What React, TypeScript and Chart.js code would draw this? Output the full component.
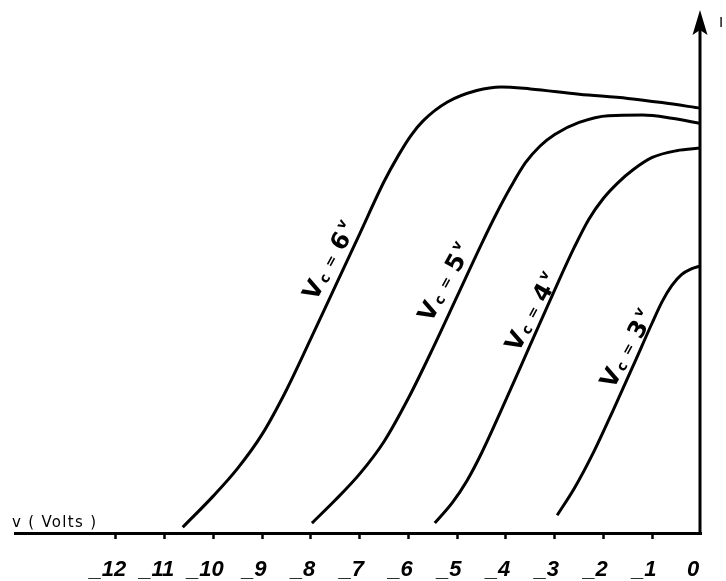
import React, { useEffect, useRef } from 'react';
import { Chart, registerables } from 'chart.js';

Chart.register(...registerables);

// x-axis ticks (volts) and their printed labels
const xTicks = [-12, -11, -10, -9, -8, -7, -6, -5, -4, -3, -2, -1, 0];
const tickLabels = ['_12', '_11', '_10', '_9', '_8', '_7', '_6', '_5', '_4', '_3', '_2', '_1', '0'];

// Vc = 6v
const vc6X = [-10.63, -10.0, -9.5, -9.0, -8.5, -8.0, -7.5, -7.0, -6.5, -6.2, -5.95, -5.7, -5.2, -4.6, -4.1, -3.5, -2.5, -1.5, -0.8, 0];
const vc6I = [1.1, 7.1, 12.4, 18.9, 27.4, 37.2, 47.2, 57.2, 67.2, 72.3, 76.0, 78.8, 82.4, 84.6, 85.3, 84.9, 83.9, 83.1, 82.3, 81.2];
// Vc = 5v
const vc5X = [-7.98, -7.5, -7.0, -6.5, -6.0, -5.5, -5.0, -4.5, -4.2, -3.9, -3.6, -3.3, -3.0, -2.5, -1.9, -1.2, -0.6, 0];
const vc5I = [1.9, 6.3, 11.3, 17.5, 25.8, 35.3, 45.3, 55.3, 61.0, 66.2, 70.8, 74.0, 76.2, 78.5, 79.8, 79.9, 79.3, 78.3];
// Vc = 4v
const vc4X = [-5.46, -5.1, -4.8, -4.5, -4.0, -3.5, -3.0, -2.6, -2.3, -2.0, -1.7, -1.4, -1.0, -0.5, 0];
const vc4I = [1.9, 5.8, 10.0, 15.3, 25.5, 36.0, 46.5, 54.6, 60.0, 64.0, 67.0, 69.4, 71.8, 73.1, 73.6];
// Vc = 3v
const vc3X = [-2.95, -2.6, -2.2, -1.8, -1.4, -1.0, -0.8, -0.6, -0.4, -0.2, 0];
const vc3I = [3.4, 8.5, 15.5, 23.5, 31.8, 40.2, 44.2, 47.3, 49.4, 50.5, 51.1];

const seriesDigits = ['6', '5', '4', '3'];
// label anchors (data coords) for the handwritten curve labels
const labelAnchorX = [-7.9, -5.54, -3.75, -1.8];
const labelAnchorI = [44.2, 40.1, 34.4, 27.4];

const xAxisTitle = 'v ( Volts )';
const yAxisTitle = 'I';

const toPts = (xs: number[], ys: number[]) => xs.map((x, i) => ({ x, y: ys[i] }));

const annotate = {
  id: 'annotate',
  afterDraw(chart: any) {
    const ctx = chart.ctx as CanvasRenderingContext2D;
    const xs = chart.scales.x;
    const ys = chart.scales.y;
    const area = chart.chartArea;
    const x0 = xs.getPixelForValue(0) - 1;
    const yBottom = ys.getPixelForValue(0);
    const top = area.top;

    ctx.save();
    ctx.fillStyle = '#000';
    ctx.strokeStyle = '#000';
    // vertical axis
    ctx.lineWidth = 3;
    ctx.beginPath();
    ctx.moveTo(x0, yBottom + 1.5);
    ctx.lineTo(x0, top + 18);
    ctx.stroke();
    // arrow head
    ctx.beginPath();
    ctx.moveTo(x0, top);
    ctx.lineTo(x0 + 7.5, top + 25);
    ctx.lineTo(x0, top + 20);
    ctx.lineTo(x0 - 7.5, top + 25);
    ctx.closePath();
    ctx.fill();

    // I label
    ctx.font = "15px 'Liberation Sans', Arial, sans-serif";
    ctx.textBaseline = 'middle';
    ctx.textAlign = 'left';
    ctx.fillText(yAxisTitle, x0 + 19, top + 13);

    // v ( Volts )
    ctx.font = "15px 'DejaVu Sans', sans-serif";
    (ctx as any).letterSpacing = '1.3px';
    ctx.textBaseline = 'alphabetic';
    ctx.fillText(xAxisTitle, 12, yBottom - 6);
    (ctx as any).letterSpacing = '0px';

    // curve labels
    seriesDigits.forEach((d, i) => {
      const px = xs.getPixelForValue(labelAnchorX[i]);
      const py = ys.getPixelForValue(labelAnchorI[i]);
      const parts = [
        { t: 'V', size: 24, dy: 0, gap: 2 },
        { t: 'c', size: 14, dy: 1, gap: 8 },
        { t: '=', size: 14, dy: -2, gap: 8 },
        { t: d, size: 24, dy: 0, gap: 3 },
        { t: 'v', size: 13, dy: -11, gap: 0 },
      ];
      ctx.save();
      ctx.translate(px, py);
      ctx.rotate((-61 * Math.PI) / 180);
      ctx.textBaseline = 'alphabetic';
      ctx.textAlign = 'left';
      let cx = 0;
      parts.forEach((p) => {
        ctx.font = `bold ${p.size}px 'DejaVu Sans', sans-serif`;
        ctx.fillText(p.t, cx, p.dy);
        cx += ctx.measureText(p.t).width + p.gap;
      });
      ctx.restore();
    });
    ctx.restore();
  },
};

export default function App() {
  const ref = useRef<HTMLCanvasElement>(null);
  useEffect(() => {
    const canvas = ref.current!;
    const mk = (name: string, xs: number[], ys: number[]) => ({
      label: name,
      data: toPts(xs, ys),
      borderColor: '#000',
      borderWidth: 3,
      pointRadius: 0,
      fill: false,
      cubicInterpolationMode: 'monotone' as const,
    });
    const chart = new Chart(canvas, {
      type: 'line',
      data: {
        datasets: [
          mk('Vc = 6v', vc6X, vc6I),
          mk('Vc = 5v', vc5X, vc5I),
          mk('Vc = 4v', vc4X, vc4I),
          mk('Vc = 3v', vc3X, vc3I),
        ],
      },
      options: {
        animation: false,
        responsive: false,
        devicePixelRatio: 1,
        layout: { padding: { left: 15, right: 25, top: 10, bottom: 0 } },
        plugins: { legend: { display: false }, tooltip: { enabled: false } },
        scales: {
          x: {
            type: 'linear',
            min: -14.07,
            max: 0,
            afterBuildTicks: (s: any) => {
              s.ticks = xTicks.map((v) => ({ value: v }));
            },
            afterFit: (s: any) => {
              s.height = 48;
            },
            ticks: {
              autoSkip: false,
              maxRotation: 0,
              padding: 18,
              labelOffset: -8,
              color: '#000',
              font: { family: "'Liberation Sans', Arial, sans-serif", size: 22, style: 'italic', weight: 'bold' },
              callback: (v: any) => {
                const i = xTicks.indexOf(Number(v));
                return i >= 0 ? tickLabels[i] : '';
              },
            },
            grid: {
              display: true,
              drawOnChartArea: false,
              drawTicks: true,
              tickLength: 6,
              tickWidth: 2.5,
              color: 'rgba(0,0,0,0)',
              tickColor: (c: any) => (c.tick && c.tick.value === 0 ? 'rgba(0,0,0,0)' : '#000'),
            },
            border: { display: true, color: '#000', width: 3 },
          },
          y: { type: 'linear', min: 0, max: 100, display: false },
        },
      },
      plugins: [annotate],
    });
    return () => chart.destroy();
  }, []);
  return (
    <canvas
      ref={ref}
      width={726}
      height={581}
      style={{ position: 'fixed', left: 0, top: 0, display: 'block', background: '#fff' }}
    />
  );
}
